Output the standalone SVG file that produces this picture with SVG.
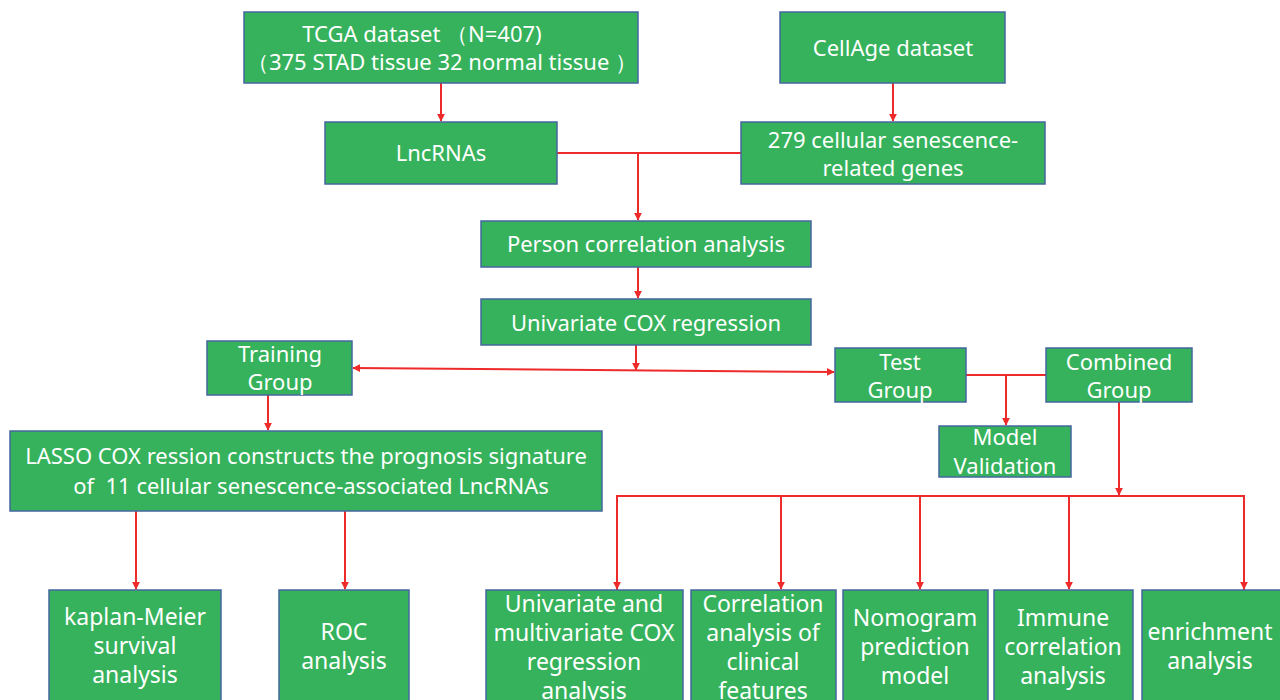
<svg xmlns="http://www.w3.org/2000/svg" width="1280" height="700" viewBox="0 0 1280 700">
<defs>
<marker id="ah" viewBox="0 0 10 10" refX="9" refY="5" markerWidth="8" markerHeight="8" markerUnits="userSpaceOnUse" orient="auto-start-reverse">
<path d="M0,0 L10,5 L0,10 z" fill="#ee2a2a"/>
</marker>
<style>
.box{fill:#35b25b;stroke:#44679f;stroke-width:1.5}
.t{font-family:"Noto Sans","Liberation Sans",sans-serif;font-size:22px;fill:#ffffff;text-anchor:middle}
.b{font-size:23px}
.c{fill:none;stroke:#ee2a2a;stroke-width:2}
</style>
</defs>
<rect width="1280" height="700" fill="#ffffff"/>
<g id="connectors">
<line class="c" x1="441" y1="83" x2="441" y2="121" marker-end="url(#ah)"/>
<line class="c" x1="893" y1="83" x2="893" y2="121" marker-end="url(#ah)"/>
<line class="c" x1="557" y1="153" x2="741" y2="153"/>
<line class="c" x1="638" y1="153" x2="638" y2="220" marker-end="url(#ah)"/>
<line class="c" x1="638" y1="267" x2="638" y2="298" marker-end="url(#ah)"/>
<line class="c" x1="636" y1="345" x2="636" y2="370" marker-end="url(#ah)"/>
<line class="c" x1="353" y1="368" x2="834" y2="372" marker-start="url(#ah)" marker-end="url(#ah)"/>
<line class="c" x1="268" y1="395" x2="268" y2="430" marker-end="url(#ah)"/>
<line class="c" x1="966" y1="375" x2="1046" y2="375"/>
<line class="c" x1="1006" y1="375" x2="1006" y2="425" marker-end="url(#ah)"/>
<line class="c" x1="1119" y1="402" x2="1119" y2="495" marker-end="url(#ah)"/>
<polyline class="c" points="617,590 617,496 1244,496 1244,590"/>
<line class="c" x1="617" y1="496" x2="617" y2="589" marker-end="url(#ah)"/>
<line class="c" x1="781" y1="496" x2="781" y2="589" marker-end="url(#ah)"/>
<line class="c" x1="920" y1="496" x2="920" y2="589" marker-end="url(#ah)"/>
<line class="c" x1="1069" y1="496" x2="1069" y2="589" marker-end="url(#ah)"/>
<line class="c" x1="1244" y1="496" x2="1244" y2="589" marker-end="url(#ah)"/>
<line class="c" x1="136" y1="511" x2="136" y2="589" marker-end="url(#ah)"/>
<line class="c" x1="345" y1="511" x2="345" y2="589" marker-end="url(#ah)"/>
</g>
<g id="tcga"><rect class="box" x="244" y="12" width="394" height="71"/>
<text class="t" x="422" y="42">TCGA dataset （N=407)</text>
<text class="t" x="442" y="70">（375 STAD tissue 32 normal tissue ）</text></g>
<g id="cellage"><rect class="box" x="780" y="12" width="225" height="71"/>
<text class="t" x="893" y="56">CellAge dataset</text></g>
<g id="lncrnas"><rect class="box" x="325" y="122" width="232" height="62"/>
<text class="t" x="441" y="161">LncRNAs</text></g>
<g id="genes"><rect class="box" x="741" y="122" width="304" height="62"/>
<text class="t" x="893" y="148">279 cellular senescence-</text>
<text class="t" x="893" y="176">related genes</text></g>
<g id="person"><rect class="box" x="481" y="221" width="330" height="46"/>
<text class="t" x="646" y="252">Person correlation analysis</text></g>
<g id="unicox"><rect class="box" x="481" y="299" width="330" height="46"/>
<text class="t" x="646" y="331">Univariate COX regression</text></g>
<g id="training"><rect class="box" x="207" y="341" width="145" height="54"/>
<text class="t" x="280" y="362">Training</text>
<text class="t" x="280" y="390">Group</text></g>
<g id="test"><rect class="box" x="835" y="348" width="131" height="54"/>
<text class="t" x="900" y="370">Test</text>
<text class="t" x="900" y="398">Group</text></g>
<g id="combined"><rect class="box" x="1046" y="348" width="146" height="54"/>
<text class="t" x="1119" y="370">Combined</text>
<text class="t" x="1119" y="398">Group</text></g>
<g id="validation"><rect class="box" x="939" y="426" width="132" height="51"/>
<text class="t" x="1005" y="445">Model</text>
<text class="t" x="1005" y="474">Validation</text></g>
<g id="lasso"><rect class="box" x="10" y="431" width="592" height="80"/>
<text class="t" x="306" y="464">LASSO COX ression constructs the prognosis signature</text>
<text class="t" x="311" y="494" xml:space="preserve">of  11 cellular senescence-associated LncRNAs</text></g>
<g id="km"><rect class="box" x="49" y="590" width="172" height="115"/>
<text class="t b" x="135" y="625">kaplan-Meier</text>
<text class="t b" x="135" y="654">survival</text>
<text class="t b" x="135" y="683">analysis</text></g>
<g id="roc"><rect class="box" x="279" y="590" width="130" height="115"/>
<text class="t b" x="344" y="640">ROC</text>
<text class="t b" x="344" y="669">analysis</text></g>
<g id="multicox"><rect class="box" x="486" y="590" width="197" height="115"/>
<text class="t b" x="584" y="612">Univariate and</text>
<text class="t b" x="584" y="641">multivariate COX</text>
<text class="t b" x="584" y="670">regression</text>
<text class="t b" x="584" y="699">analysis</text></g>
<g id="clinical"><rect class="box" x="691" y="590" width="145" height="115"/>
<text class="t b" x="763" y="612">Correlation</text>
<text class="t b" x="763" y="641">analysis of</text>
<text class="t b" x="763" y="670">clinical</text>
<text class="t b" x="763" y="699">features</text></g>
<g id="nomogram"><rect class="box" x="843" y="590" width="145" height="115"/>
<text class="t b" x="915" y="626">Nomogram</text>
<text class="t b" x="915" y="655">prediction</text>
<text class="t b" x="915" y="684">model</text></g>
<g id="immune"><rect class="box" x="994" y="590" width="139" height="115"/>
<text class="t b" x="1063" y="626">Immune</text>
<text class="t b" x="1063" y="655">correlation</text>
<text class="t b" x="1063" y="684">analysis</text></g>
<g id="enrichment"><rect class="box" x="1142" y="590" width="145" height="115"/>
<text class="t b" x="1210" y="640">enrichment</text>
<text class="t b" x="1210" y="669">analysis</text></g>
</svg>
